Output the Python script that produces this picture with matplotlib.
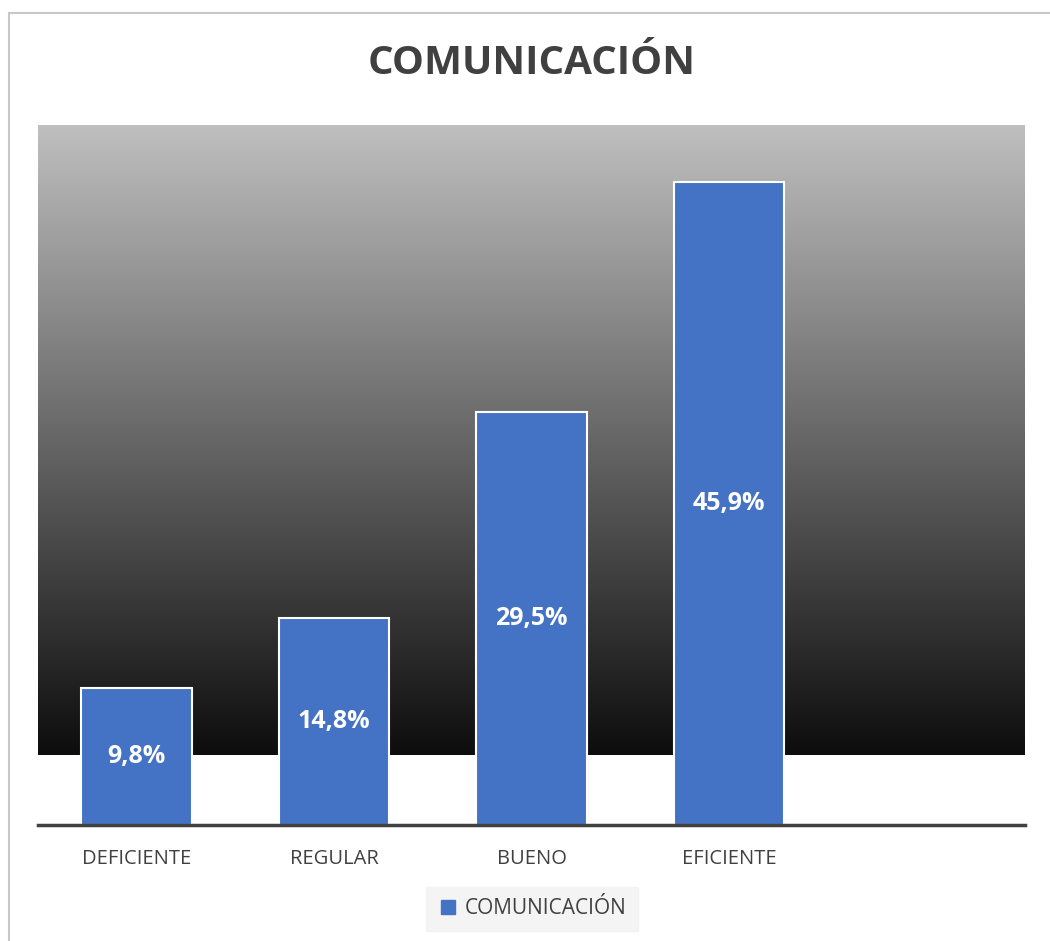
import numpy as np
import matplotlib
matplotlib.use("Agg")
import matplotlib.pyplot as plt
from matplotlib.patches import Rectangle
from matplotlib.colors import LinearSegmentedColormap
from matplotlib.lines import Line2D

categories = ["DEFICIENTE", "REGULAR", "BUENO", "EFICIENTE", ""]
values = [9.8, 14.8, 29.5, 45.9]
labels = ["9,8%", "14,8%", "29,5%", "45,9%"]
series_name = "COMUNICACIÓN"
title = "COMUNICACIÓN"

plt.rcParams['font.family'] = ['Open Sans', 'DejaVu Sans']

W, H = 1050, 941
fig = plt.figure(figsize=(W / 100, H / 100), dpi=100)
fig.patch.set_facecolor("white")

# outer border (cropped at right/bottom)
fig.add_artist(Rectangle((9 / W, -0.05), 1.2, 1 - 13 / H + 0.05, transform=fig.transFigure,
                         facecolor="none", edgecolor="#c8c8c8", linewidth=1.5))

ax = fig.add_axes([38 / W, 1 - 825 / H, (1025 - 38) / W, (825 - 125) / H])
ax.set_xlim(-0.5, 4.5)
ax.set_ylim(0, 50)

# gradient background
grad = np.linspace(0, 1, 256).reshape(-1, 1)
cmap = LinearSegmentedColormap.from_list("g", ["#0d0d0d", "#bfbfbf"])
ax.imshow(grad, extent=(-0.5, 4.5, 5, 50), origin="lower", aspect="auto", cmap=cmap,
          zorder=0, interpolation="bilinear")

x = np.arange(len(values))
bars = ax.bar(x, values, width=0.56, color="#4472C4", edgecolor="white", linewidth=1.5, zorder=2)
for xi, v, lab in zip(x, values, labels):
    ax.text(xi, v / 2, lab, ha="center", va="center", color="white", fontsize=18,
            fontweight="bold", zorder=3)

ax.set_xticks(range(len(categories)))
ax.set_xticklabels(categories, fontsize=14.5, color="#404040")
ax.tick_params(axis="x", length=0, pad=17)
ax.set_yticks([])
for s in ["top", "right", "left"]:
    ax.spines[s].set_visible(False)
ax.spines["bottom"].set_color("#404040")
ax.spines["bottom"].set_linewidth(2.5)
ax.spines["bottom"].set_zorder(4)

fig.text(532 / W, 1 - 63 / H, title, ha="center", va="center", fontsize=29,
         fontweight="bold", color="#404040")

handle = Line2D([], [], marker="s", linestyle="none", markersize=10,
                markerfacecolor="#4472C4", markeredgecolor="#4472C4")
leg = fig.legend([handle], [series_name], loc="center", bbox_to_anchor=(532 / W, 1 - 909 / H),
                 frameon=True, fontsize=15, handletextpad=0.3, borderpad=0.55,
                 handlelength=1.0, borderaxespad=0, fancybox=False)
leg.get_frame().set_facecolor("#f2f2f2")
leg.get_frame().set_edgecolor("#f2f2f2")
for t in leg.get_texts():
    t.set_color("#404040")

fig.savefig("out.png", dpi=100)
